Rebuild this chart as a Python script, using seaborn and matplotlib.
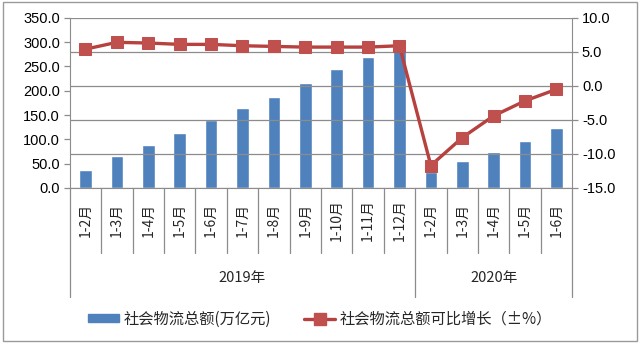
import matplotlib
matplotlib.use("Agg")
import matplotlib.pyplot as plt
import seaborn as sns
import pandas as pd
from matplotlib.lines import Line2D
from matplotlib.patches import Rectangle
from matplotlib.ticker import FormatStrFormatter, MultipleLocator

# Monthly cumulative periods, grouped by year
months = ["1-2月", "1-3月", "1-4月", "1-5月", "1-6月", "1-7月", "1-8月", "1-9月",
          "1-10月", "1-11月", "1-12月",
          "1-2月", "1-3月", "1-4月", "1-5月", "1-6月"]
years = ["2019年", "2020年"]
year_sizes = [11, 5]

# 社会物流总额 (万亿元)
total = [37.0, 66.0, 88.5, 112.5, 140.0, 164.0, 188.0, 215.5, 244.0, 270.0, 298.0,
         33.5, 56.0, 74.5, 97.0, 124.0]
# 可比增长 (%)
growth = [5.4, 6.4, 6.3, 6.1, 6.1, 5.9, 5.8, 5.7, 5.7, 5.7, 5.9,
          -11.7, -7.6, -4.4, -2.2, -0.5]

bar_label = "社会物流总额(万亿元)"
line_label = "社会物流总额可比增长（±%）"

BLUE = "#4F81BD"
RED = "#C0504D"
DARK_RED = "#B7413E"
GRID = "#8C8C8C"

sns.set_style("white")
plt.rcParams["font.family"] = ["Noto Sans CJK SC", "DejaVu Sans"]

# unique category keys (month names repeat across years)
year_of = [y for y, n in zip(years, year_sizes) for _ in range(n)]
keys = [f"{y} {m}" for y, m in zip(year_of, months)]
df = pd.DataFrame({"key": keys, "total": total, "growth": growth,
                   "pos": list(range(len(months)))})

fig = plt.figure(figsize=(6.4, 3.43), dpi=100)
ax = fig.add_axes([0.109, 0.452, 0.785, 0.496])
ax2 = ax.twinx()

sns.barplot(data=df, x="key", y="total", order=keys, color=BLUE, width=0.4,
            saturation=1, ax=ax, zorder=2)
sns.lineplot(data=df, x="pos", y="growth", ax=ax2, color=DARK_RED, lw=2.4,
             marker="s", markersize=9, markerfacecolor=RED, markeredgecolor=RED,
             zorder=3)

ax.set_xlim(-0.5, len(months) - 0.5)
ax.set_ylim(0, 350)
ax2.set_ylim(-15, 10)
ax.yaxis.set_major_locator(MultipleLocator(50))
ax2.yaxis.set_major_locator(MultipleLocator(5))
ax.yaxis.set_major_formatter(FormatStrFormatter("%.1f"))
ax2.yaxis.set_major_formatter(FormatStrFormatter("%.1f"))

# gridlines follow the right-hand scale
ax2.grid(True, axis="y", color=GRID, lw=0.9)
ax.grid(False)
ax2.set_zorder(ax.get_zorder() + 1)
ax2.patch.set_visible(False)

for a in (ax, ax2):
    a.set_xlabel("")
    a.set_ylabel("")
    a.set_xticks([])
    for s in a.spines.values():
        s.set_visible(False)
    a.tick_params(axis="y", length=4, width=0.9, color=GRID, labelcolor="black",
                  labelsize=10.5, pad=3)
    for t in a.get_yticklabels():
        t.set_fontfamily(["Liberation Sans", "DejaVu Sans"])

ax.spines["left"].set_visible(True)
ax.spines["left"].set_color(GRID)
ax.spines["bottom"].set_visible(True)
ax.spines["bottom"].set_color(GRID)
ax2.spines["right"].set_visible(True)
ax2.spines["right"].set_color(GRID)

# multi-level category axis
trans = ax.get_xaxis_transform()
n = len(months)
year_edges = [-0.5]
for s in year_sizes:
    year_edges.append(year_edges[-1] + s)
for i in range(n - 1):
    b = i + 0.5
    if b in year_edges:
        continue
    ax.add_line(Line2D([b, b], [0, -0.382], transform=trans, color=GRID,
                       lw=0.9, clip_on=False))
for b in year_edges:
    ax.add_line(Line2D([b, b], [0, -0.641], transform=trans, color=GRID,
                       lw=0.9, clip_on=False))
for i, m in enumerate(months):
    ax.text(i, -0.19, m, transform=trans, rotation=90, ha="center", va="center",
            fontsize=10)
for y, a0, a1 in zip(years, year_edges[:-1], year_edges[1:]):
    ax.text((a0 + a1) / 2, -0.53, y, transform=trans, ha="center", va="center",
            fontsize=10.5)

handles = [Rectangle((0, 0), 1, 1, color=BLUE),
           Line2D([], [], color=DARK_RED, lw=2.4, marker="s", markersize=8,
                  markerfacecolor=RED, markeredgecolor=RED)]
fig.legend(handles, [bar_label, line_label], loc="center",
           bbox_to_anchor=(0.5, 0.07), ncol=2, frameon=False, fontsize=11,
           handlelength=2.0, handleheight=0.5, columnspacing=2.2,
           handletextpad=0.3)

fig.add_artist(Rectangle((0.004, 0.006), 0.992, 0.988, transform=fig.transFigure,
                         fill=False, edgecolor="#9A9A9A", lw=1.0))

fig.savefig("out.png", dpi=100)
